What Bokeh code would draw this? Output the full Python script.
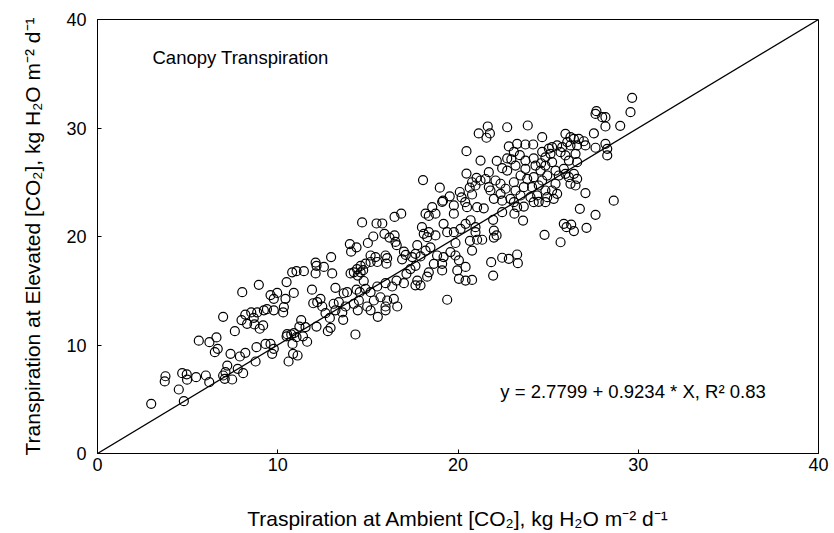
from bokeh.plotting import figure
from bokeh.models import Range1d, Label, FixedTicker
from bokeh.embed import file_html
from bokeh.resources import INLINE

ambient = [
    2.98, 4.79, 4.51, 3.77, 3.73, 4.7, 4.95, 4.97, 5.47, 6.01, 6.2, 6.97, 7.1, 7.2, 7.06, 7.47, 7.78, 8.08, 8.77,
    7.38, 7.9, 8.2, 6.51, 6.67, 5.62, 6.21, 6.6, 7.62, 6.97, 7.99, 8.3, 8.2, 8.67, 8.71, 9.0, 9.19, 8.53, 8.86,
    8.82, 9.32,
    8.03, 8.95, 9.23, 9.4,
    9.78, 10.3, 11.3, 11.2, 11.54, 10.52, 10.49, 10.75, 10.9, 11.04, 11.4, 11.63, 10.82, 9.78, 9.6, 9.69, 10.85,
    11.1, 10.6, 12.15, 12.65, 12.89, 12.78, 12.93, 13.63, 13.58, 13.2, 14.31, 14.44, 15.15, 15.55, 15.98,
    16.85, 16.48, 14.68, 15.48, 15.8, 15.92, 16.48, 16.2, 16.53, 16.6, 15.3, 15.0, 14.0, 14.37, 14.07, 17.0, 17.1,
    16.9, 12.96, 15.15, 15.42, 15.98, 16.07, 16.03, 15.52, 15.15, 14.87, 14.6, 14.4, 14.22, 14.04, 14.6, 14.74,
    14.44, 14.77, 12.1, 12.15, 12.56, 13.02, 12.1, 10.8, 11.04, 11.45, 10.49, 10.89, 9.97, 9.6, 9.78, 10.43, 11.9,
    12.37, 11.97, 13.2, 13.66, 13.85, 14.37, 14.55, 14.87, 15.15, 15.52, 15.98, 16.35, 16.59, 17.0, 17.14, 17.36,
    13.1, 13.39, 13.76, 14.22, 14.5, 14.96, 15.33, 15.7, 16.07, 15.98, 16.44, 16.63, 10.34, 12.19, 12.47,
    18.57, 19.12, 19.77, 20.5, 20.4, 21.06, 18.75, 19.77, 18.2, 18.38, 20.7, 20.97, 20.42, 20.14, 19.77, 19.2,
    19.4, 18.75, 18.38, 18.0, 18.1, 18.29, 19.86, 20.66, 20.78, 21.06, 20.97, 17.74, 17.64, 17.46, 17.64, 17.92,
    18.2, 18.47, 18.84, 19.2, 19.58, 19.86, 20.05, 20.42, 19.96, 19.12, 19.12, 18.66, 18.38, 18.29, 17.74, 17.92,
    17.64, 20.05, 20.42, 20.78, 19.4,
    21.43, 22.45, 23.1, 23.28, 23.65, 23.13, 22.45, 21.95, 23.61, 24.2, 24.48, 24.85, 21.99, 22.14, 21.99, 21.34,
    24.8, 21.84, 22.45, 22.82, 23.28, 23.32, 21.95,
    28.64, 26.76, 27.63, 25.87, 26.28, 26.02, 26.43, 27.13, 25.69,
    21.15, 20.47, 21.25, 18.06, 18.99, 20.47, 21.03, 20.78, 20.65, 20.97, 20.1, 19.54, 19.17, 20.2, 20.78, 21.25,
    21.65, 21.77, 21.58, 22.73, 23.87, 24.67, 22.82, 23.28, 23.74, 24.17, 23.1, 23.43, 22.96, 22.73, 22.15,
    23.74, 24.2, 24.67, 24.85, 24.61, 25.04, 22.45, 22.73, 23.19, 23.74, 24.3, 24.58, 24.85, 21.71, 21.53, 22.08,
    22.36, 21.71, 22.64, 23.1, 23.47, 23.84, 24.2, 24.67, 24.95, 23.65, 24.11, 24.48, 24.85, 23.19, 23.47, 22.36,
    21.8, 21.99, 22.91, 24.02, 24.39, 24.95,
    27.68, 27.63, 28.0, 28.18, 28.18, 29.0, 27.54, 25.96, 26.24, 26.43, 26.7, 26.98, 26.06, 26.24, 26.61, 27.07,
    27.63, 28.18, 28.28, 28.28, 25.78, 25.5, 25.22, 25.13, 25.69, 25.96, 26.15, 26.52, 26.61, 25.22, 25.41, 25.87,
    25.96, 25.59, 26.15, 26.43, 26.61, 26.24, 26.52, 25.41, 25.22, 25.5, 27.07, 25.31,
    29.66, 29.57,
]

elevated = [
    4.58, 4.82, 5.9, 7.12, 6.64, 7.4, 7.3, 6.8, 7.03, 7.19, 6.57, 7.19, 7.5, 8.1, 6.88, 6.82, 7.8, 7.4, 8.48,
    9.19, 8.94, 9.28, 9.34, 9.65, 10.4, 10.26, 10.7, 11.27, 12.6, 12.3, 11.95, 12.8, 12.5, 11.9, 11.5, 11.8, 13.0, 13.0,
    9.8, 10.1,
    14.87, 15.55, 13.2, 13.3,
    13.2, 13.0, 12.3, 11.7, 11.64, 11.0, 10.8, 10.97, 11.1, 10.72, 10.8, 10.3, 10.1, 9.65, 10.1, 9.19, 9.19,
    9.03, 8.48, 11.7, 12.93, 12.5, 11.27, 11.58, 12.32, 13.0, 13.2, 10.97, 13.2, 13.2, 12.6, 13.2,
    22.1, 21.8, 21.3, 21.2, 21.2, 20.25, 20.1, 19.9, 19.5, 19.2, 20.0, 19.4, 19.3, 19.0, 18.6, 18.6, 18.3,
    17.9, 18.1, 18.25, 18.1, 18.25, 18.0, 17.5, 17.65, 17.65, 17.5, 17.3, 17.0, 16.7, 16.6, 16.7, 16.9,
    16.4, 15.9, 17.6, 17.3, 17.2, 16.6, 16.6, 16.7, 16.8, 16.8, 15.8, 14.8, 14.8, 14.6, 14.26, 14.26, 15.1,
    14.26, 13.85, 15.27, 14.77, 14.87, 15.1, 14.87, 15.18, 14.87, 15.39, 15.7, 15.39, 15.94, 15.7, 16.56, 17.0,
    13.8, 13.95, 13.55, 13.8, 14.1, 13.55, 14.1, 14.4, 14.1, 13.55, 14.26, 13.55, 13.5, 13.95, 13.55,
    22.7, 23.2, 22.86, 22.7, 23.16, 22.7, 22.1, 22.1, 22.1, 21.9, 21.5, 20.86, 21.17, 20.7, 20.4, 21.17,
    20.4, 20.1, 20.4, 20.86, 20.25, 19.94, 19.4, 19.6, 18.7, 19.7, 20.4, 19.2, 18.4, 18.1, 17.3, 18.16,
    18.7, 19.0, 18.25, 18.1, 18.56, 18.25, 17.8, 17.2, 16.87, 17.48, 16.87, 17.48, 16.7, 16.3, 15.94, 15.5,
    15.5, 16.1, 15.94, 16.0, 14.17,
    22.6, 23.3, 23.16, 22.7, 22.76, 22.1, 22.24, 21.54, 21.47, 23.16, 23.2, 23.16, 20.55, 20.1, 19.9, 19.7,
    20.15, 17.63, 18.04, 17.94, 18.34, 17.54, 16.4,
    23.3, 22.55, 22.0, 21.17, 21.1, 20.86, 20.5, 20.8, 19.47,
    29.5, 27.86, 27.0, 25.2, 24.5, 25.8, 25.4, 25.0, 24.5, 24.7, 24.1, 23.7, 23.3, 23.6, 23.87, 25.16,
    30.14, 29.5, 29.1, 30.07, 30.23, 29.15, 28.3, 28.54, 28.48, 28.48, 27.8, 27.5, 27.1, 27.2, 26.97,
    27.0, 27.2, 27.8, 27.3, 26.75, 28.1, 26.3, 26.08, 26.54, 26.24, 26.54, 26.08, 26.54, 25.93, 25.3, 25.16,
    24.86, 24.55, 24.4, 25.0, 25.62, 25.32, 25.47, 25.16, 25.62, 24.55, 24.55, 24.7, 24.24, 24.24, 23.78, 23.93,
    24.24, 23.47, 23.47, 23.62, 23.78, 23.62,
    31.55, 31.3, 31.0, 31.0, 30.14, 30.2, 29.5, 29.46, 29.15, 29.0, 29.0, 28.78, 28.7, 28.39, 28.39, 28.39,
    28.18, 28.54, 28.08, 27.47, 28.24, 28.39, 28.24, 27.62, 27.77, 27.47, 27.0, 27.62, 26.85, 26.85, 26.08, 26.24,
    25.78, 25.62, 25.47, 25.78, 25.32, 24.86, 24.7, 24.86, 24.24, 23.93, 24.0, 23.47,
    32.78, 31.46,
]

one_to_one = [0, 40]
axis_ticks = [0, 10, 20, 30, 40]

title_text = "Canopy Transpiration"
equation_text = "y = 2.7799 + 0.9234 * X, R\u00b2 0.83"
x_label = "Traspiration at Ambient [CO\u2082], kg H\u2082O m\u207b\u00b2 d\u207b\u00b9"
y_label = "Transpiration at Elevated [CO\u2082], kg H\u2082O m\u207b\u00b2 d\u207b\u00b9"

FONT = "Liberation Sans"

p = figure(width=834, height=533, output_backend="svg", toolbar_location=None,
           x_range=Range1d(0, 40), y_range=Range1d(0, 40),
           min_border_left=97, min_border_right=16, min_border_top=19, min_border_bottom=80)
p.background_fill_color = "white"
p.border_fill_color = "white"
p.outline_line_color = "black"
p.outline_line_width = 1
p.xgrid.visible = False
p.ygrid.visible = False

p.line(one_to_one, one_to_one, line_color="black", line_width=1.3)
p.scatter(ambient, elevated, marker="circle", size=9, fill_color=None,
          line_color="black", line_width=1.2)

for ax, lab, lstand in ((p.xaxis[0], x_label, 33), (p.yaxis[0], y_label, 19)):
    ax.ticker = FixedTicker(ticks=axis_ticks)
    ax.axis_label = lab
    ax.axis_label_text_font = FONT
    ax.axis_label_text_font_size = "21px"
    ax.axis_label_text_font_style = "normal"
    ax.axis_label_text_color = "black"
    ax.axis_label_standoff = lstand
    ax.major_label_text_font = FONT
    ax.major_label_text_font_size = "18px"
    ax.major_label_text_color = "black"
    ax.axis_line_color = "black"
    ax.major_tick_line_color = "black"
    ax.major_tick_out = 0
    ax.major_tick_in = 4
    ax.minor_tick_line_color = None
p.xaxis[0].major_label_standoff = 4
p.yaxis[0].major_label_standoff = 11

p.add_layout(Label(x=3.05, y=36.5, text=title_text, text_font=FONT, text_font_size="18.5px",
                   text_baseline="middle", text_color="black"))
p.add_layout(Label(x=22.35, y=5.7, text=equation_text, text_font=FONT, text_font_size="18.5px",
                   text_baseline="middle", text_color="black"))

open("out.html", "w").write(file_html(p, INLINE))
